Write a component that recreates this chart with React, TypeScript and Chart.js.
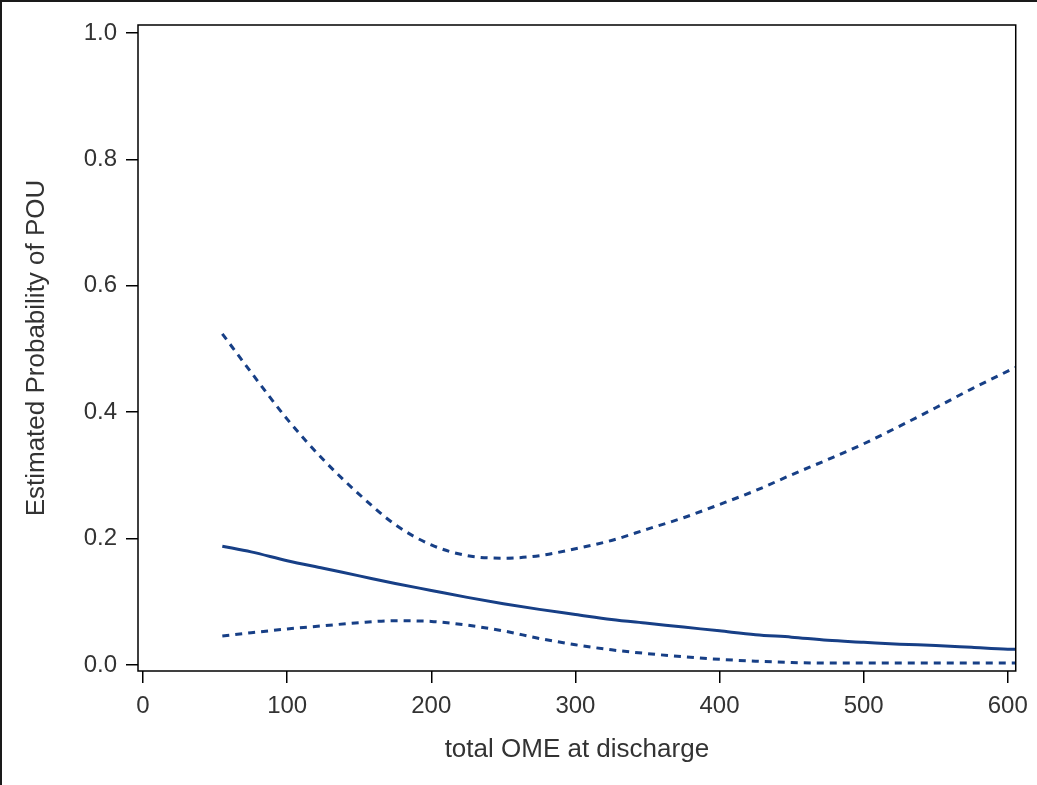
import React, { useEffect, useRef } from "react";
import { Chart, registerables } from "chart.js";

Chart.register(...registerables);

const omeValues = [55, 75, 100, 125, 150, 175, 200, 225, 250, 275, 300, 325, 350, 375, 400, 425, 450, 475, 500, 525, 550, 575, 600, 605];
const estimate = [0.188, 0.179, 0.165, 0.153, 0.141, 0.129, 0.118, 0.107, 0.097, 0.088, 0.080, 0.072, 0.066, 0.060, 0.054, 0.048, 0.044, 0.039, 0.036, 0.033, 0.031, 0.028, 0.025, 0.025];
const upperCL = [0.524, 0.463, 0.389, 0.325, 0.270, 0.222, 0.190, 0.173, 0.169, 0.173, 0.184, 0.197, 0.215, 0.233, 0.254, 0.276, 0.301, 0.325, 0.350, 0.378, 0.407, 0.437, 0.465, 0.471];
const lowerCL = [0.046, 0.051, 0.057, 0.062, 0.067, 0.070, 0.069, 0.063, 0.054, 0.042, 0.032, 0.024, 0.018, 0.013, 0.009, 0.006, 0.004, 0.003, 0.003, 0.003, 0.003, 0.003, 0.003, 0.003];
const xTicks = [0, 100, 200, 300, 400, 500, 600];
const yTicks = [0, 0.2, 0.4, 0.6, 0.8, 1.0];
const xTitle = "total OME at discharge";
const yTitle = "Estimated Probability of POU";

const LINE = "#173f86";
const TEXT = "#333333";
const FONT = "'Liberation Sans', Arial, sans-serif";

export default function App() {
  const ref = useRef<HTMLCanvasElement | null>(null);
  useEffect(() => {
    document.body.style.margin = "0";
    const canvas = ref.current;
    if (!canvas) return;
    const pts = (ys: number[]) => omeValues.map((x, i) => ({ x, y: ys[i] }));
    const framePlugin = {
      id: "frame",
      afterDraw(chart: any) {
        const { ctx, chartArea } = chart;
        ctx.save();
        ctx.strokeStyle = "#000";
        ctx.lineWidth = 1.5;
        ctx.strokeRect(chartArea.left, chartArea.top, chartArea.right - chartArea.left, chartArea.bottom - chartArea.top);
        ctx.fillStyle = "#1a1a1a";
        ctx.fillRect(0, 0, chart.width, 2);
        ctx.fillRect(0, 0, 2, chart.height);
        ctx.restore();
      },
    };
    const chart = new Chart(canvas, {
      type: "line",
      data: {
        datasets: [
          { label: "upper", data: pts(upperCL), borderColor: LINE, borderWidth: 3, borderDash: [7, 6], borderCapStyle: "butt", pointRadius: 0, cubicInterpolationMode: "monotone", fill: false },
          { label: "estimate", data: pts(estimate), borderColor: LINE, borderWidth: 3, pointRadius: 0, cubicInterpolationMode: "monotone", fill: false },
          { label: "lower", data: pts(lowerCL), borderColor: LINE, borderWidth: 3, borderDash: [7, 6], borderCapStyle: "butt", pointRadius: 0, cubicInterpolationMode: "monotone", fill: false },
        ],
      },
      options: {
        animation: false,
        responsive: false,
        layout: { padding: { top: 25, right: 20, left: 0, bottom: 0 } },
        plugins: { legend: { display: false }, tooltip: { enabled: false } },
        scales: {
          x: {
            type: "linear",
            min: -3.5,
            max: 605.5,
            afterBuildTicks: (s: any) => { s.ticks = xTicks.map((v) => ({ value: v })); },
            afterFit: (s: any) => { s.height = 114; },
            grid: { display: true, drawOnChartArea: false, drawTicks: true, tickLength: 12, color: "#000", lineWidth: 1.5 },
            border: { display: false },
            ticks: { color: TEXT, font: { family: FONT, size: 24 }, padding: 9, maxRotation: 0, callback: (v: any) => String(v) },
            title: { display: true, text: xTitle, color: TEXT, font: { family: FONT, size: 26 }, padding: { top: 0, bottom: 20 } },
          },
          y: {
            type: "linear",
            min: -0.0095,
            max: 1.0126,
            afterBuildTicks: (s: any) => { s.ticks = yTicks.map((v) => ({ value: v })); },
            afterFit: (s: any) => { s.width = 138; },
            grid: { display: true, drawOnChartArea: false, drawTicks: true, tickLength: 12, color: "#000", lineWidth: 1.5 },
            border: { display: false },
            ticks: { color: TEXT, font: { family: FONT, size: 24 }, padding: 9, callback: (v: any) => Number(v).toFixed(1) },
            title: { display: true, text: yTitle, color: TEXT, font: { family: FONT, size: 26 }, padding: { top: 21, bottom: 0 } },
          },
        },
      },
      plugins: [framePlugin],
    } as any);
    return () => chart.destroy();
  }, []);
  return (
    <div style={{ width: 1037, height: 785, position: "relative", background: "#fff" }}>
      <canvas ref={ref} width={1037} height={785} style={{ display: "block" }} />
    </div>
  );
}
